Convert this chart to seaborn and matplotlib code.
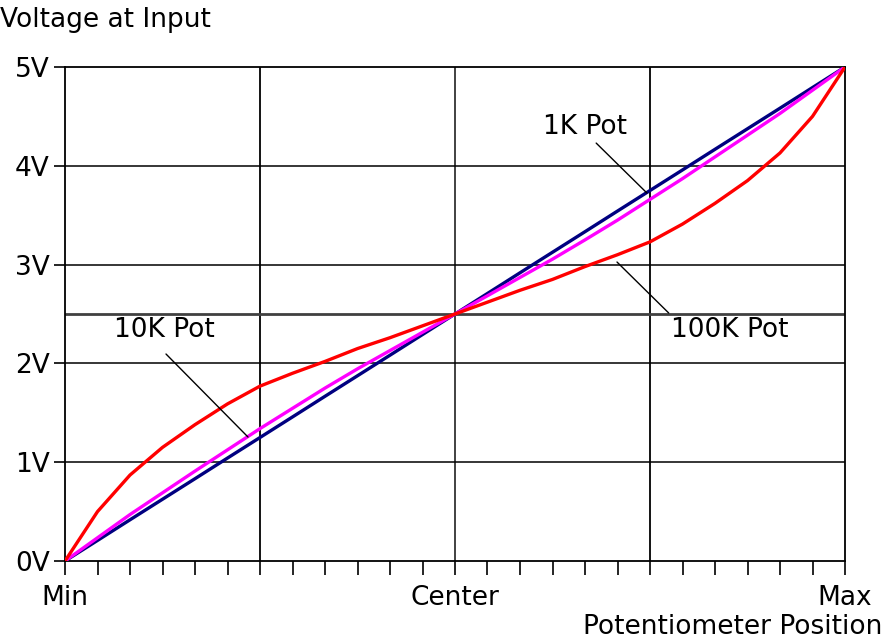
import numpy as np
import pandas as pd
import matplotlib
matplotlib.use("Agg")
import matplotlib.pyplot as plt
import seaborn as sns

# Wiper position as a fraction of travel, sampled every 1/24 turn
position = [i / 24 for i in range(25)]

# Output voltage for each pot value (volts)
v_1k = [0.000, 0.208, 0.417, 0.625, 0.833, 1.042, 1.250, 1.458, 1.667, 1.875,
        2.083, 2.292, 2.500, 2.708, 2.917, 3.125, 3.333, 3.542, 3.750, 3.958,
        4.167, 4.375, 4.583, 4.792, 5.000]
v_10k = [0.000, 0.235, 0.470, 0.690, 0.910, 1.125, 1.340, 1.545, 1.750, 1.945,
         2.130, 2.315, 2.500, 2.685, 2.870, 3.055, 3.250, 3.450, 3.660, 3.870,
         4.090, 4.310, 4.530, 4.765, 5.000]
v_100k = [0.000, 0.500, 0.870, 1.150, 1.380, 1.590, 1.770, 1.900, 2.020, 2.150,
          2.260, 2.380, 2.500, 2.620, 2.740, 2.850, 2.980, 3.100, 3.230, 3.410,
          3.620, 3.850, 4.130, 4.500, 5.000]

y_ticks = [0, 1, 2, 3, 4, 5]
y_labels = ["0V", "1V", "2V", "3V", "4V", "5V"]
x_ticks = [0.0, 0.5, 1.0]
x_labels = ["Min", "Center", "Max"]

series = ["1K Pot", "10K Pot", "100K Pot"]
colors = {"1K Pot": "#000080", "10K Pot": "#ff00ff", "100K Pot": "#ff0000"}

df = pd.DataFrame({
    "position": position * 3,
    "voltage": v_1k + v_10k + v_100k,
    "pot": [s for s in series for _ in position],
})

sns.set_style("white")
plt.rcParams["font.family"] = ["DejaVu Sans"]
plt.rcParams["text.color"] = "black"
plt.rcParams["xtick.color"] = "black"
plt.rcParams["ytick.color"] = "black"
FS = 19

fig = plt.figure(figsize=(8.85, 6.43), dpi=100)
ax = fig.add_axes([65 / 885, 82 / 643, 780 / 885, 494 / 643])

# grid
for gx in [0.25, 0.5, 0.75]:
    ax.axvline(gx, color="black" if gx != 0.5 else "#333333", lw=1.3, zorder=1)
for gy in [1, 2, 3, 4]:
    ax.axhline(gy, color="black", lw=1.1, zorder=1)
ax.axhline(2.5, color="#404040", lw=2.0, zorder=1)

sns.lineplot(data=df, x="position", y="voltage", hue="pot", palette=colors,
             hue_order=series, lw=2.4, ax=ax, legend=False, zorder=3,
             estimator=None, sort=False)

ax.set_xlim(0, 1)
ax.set_ylim(0, 5)
ax.set_xticks(x_ticks)
ax.set_xticklabels(x_labels, fontsize=FS, color="black")
ax.set_xticks(position, minor=True)
ax.set_yticks(y_ticks)
ax.set_yticklabels(y_labels, fontsize=FS, color="black")
ax.tick_params(axis="x", which="both", direction="out", length=10, width=1.2,
               color="black", pad=7, bottom=True)
ax.tick_params(axis="y", which="major", direction="out", length=8, width=1.2,
               color="black", pad=3, left=True)
for s in ax.spines.values():
    s.set_color("black")
    s.set_linewidth(1.3)
ax.set_xlabel("")
ax.set_ylabel("")

# series labels with leader lines to their curves
labels = [
    ("1K Pot", (0.667, 4.39), (0.681, 4.23), (0.746, 3.725)),
    ("10K Pot", (0.128, 2.34), (0.1295, 2.095), (0.2346, 1.255)),
    ("100K Pot", (0.852, 2.34), (0.774, 2.51), (0.7077, 3.026)),
]
for text, tpos, start, end in labels:
    ax.text(*tpos, text, fontsize=FS, ha="center", va="center", color="black",
            zorder=5)
    ax.annotate("", xy=end, xytext=start,
                arrowprops=dict(arrowstyle="-", color="black", lw=1.0,
                                shrinkA=0, shrinkB=0), zorder=5)

fig.text(0, 1 - 20 / 643, "Voltage at Input", fontsize=FS, ha="left",
         va="center", color="black")
fig.text(882 / 885, 1 - 627 / 643, "Potentiometer Position", fontsize=FS,
         ha="right", va="center", color="black")

fig.savefig("out.png", dpi=100, facecolor="white")
